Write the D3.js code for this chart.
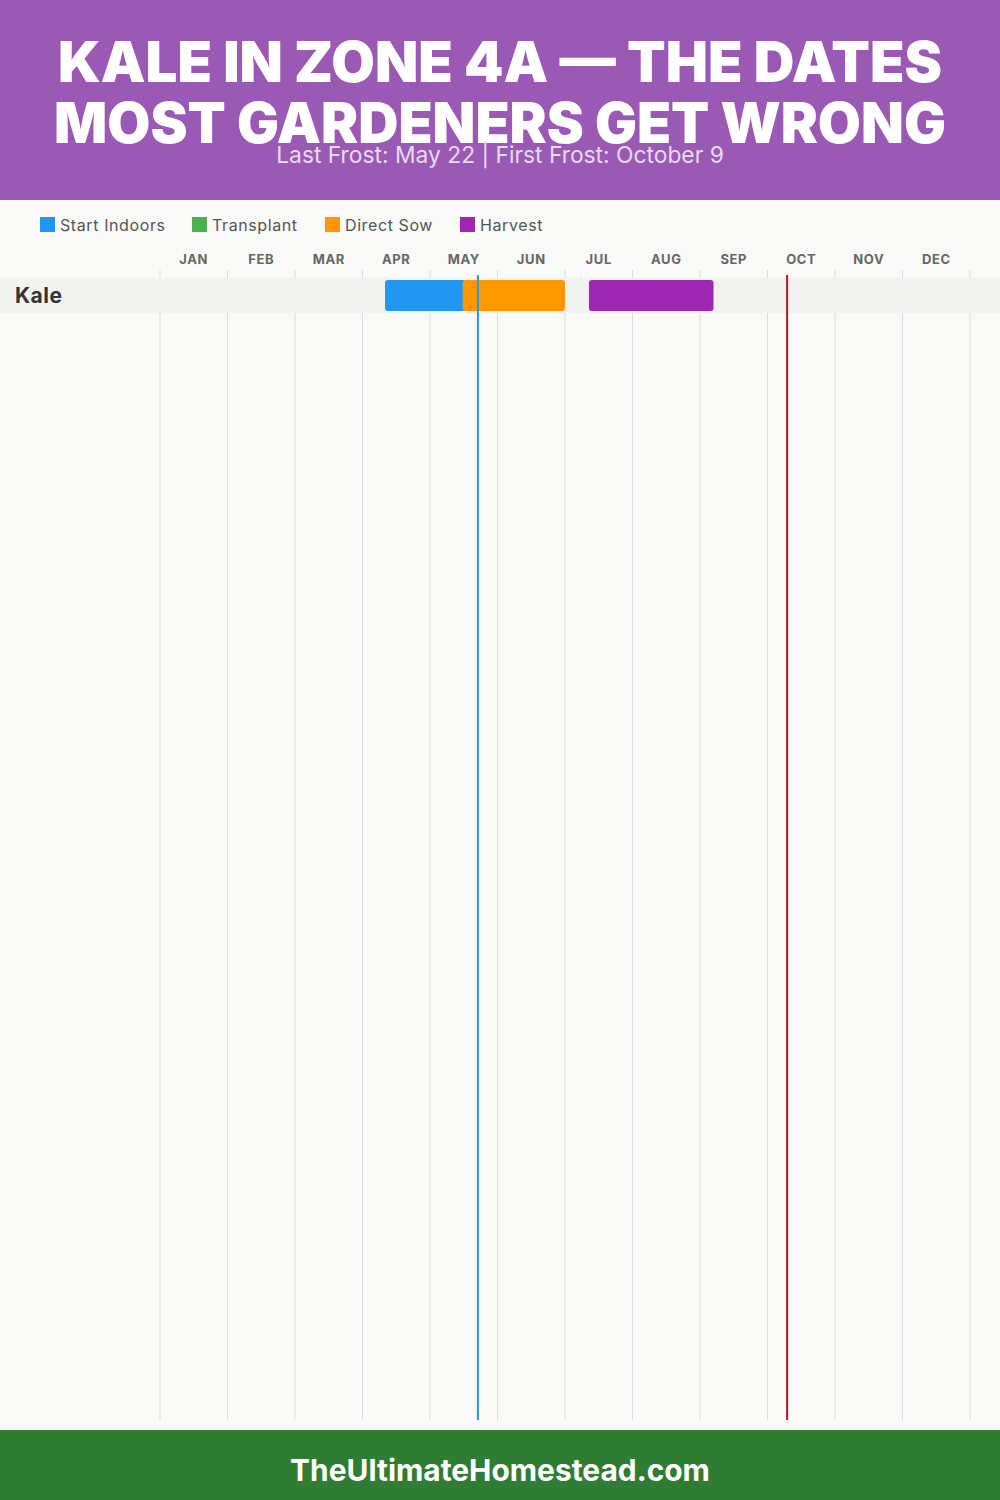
<!DOCTYPE html>
<html>
<head>
<meta charset="utf-8">
<script src="https://cdn.jsdelivr.net/npm/d3@7"></script>
<style>
  html, body { margin: 0; padding: 0; background: #f9f9f7; }
  svg { display: block; }
</style>
</head>
<body>
<svg id="chart" width="1000" height="1500"></svg>
<script>
// ---- data ----
const titleLines = ["KALE IN ZONE 4A \u2014 THE DATES", "MOST GARDENERS GET WRONG"];
const subtitle = "Last Frost: May 22 | First Frost: October 9";
const footerText = "TheUltimateHomestead.com";
const months = ["JAN","FEB","MAR","APR","MAY","JUN","JUL","AUG","SEP","OCT","NOV","DEC"];
const daysInMonth = [31,28,31,30,31,30,31,31,30,31,30,31];
const crops = ["Kale"];
const phases = ["Start Indoors", "Transplant", "Direct Sow", "Harvest"];
const phaseColors = ["#2196f3", "#4caf50", "#ff9800", "#9c27b0"];
// [crop, phase, startMonth(0-based), startDay, endMonth, endDay]
const tasks = [
  ["Kale", "Start Indoors", 3, 10, 4, 20],
  ["Kale", "Direct Sow",    4, 15, 5, 30],
  ["Kale", "Harvest",       6, 11, 8, 6]
];
// [label, month(0-based), day, color]
const frostLines = [
  ["Last Frost", 4, 22, "#2196f3"],
  ["First Frost", 9, 9, "#b71c1c"]
];

// ---- drawing ----
const W = 1000, H = 1500;
const svg = d3.select("#chart");
const FONT = "Inter, 'Open Sans', sans-serif";

function fit(sel, size, target) {
  const len = sel.node().getComputedTextLength();
  sel.attr("font-size", size * target / len);
  return sel;
}

svg.append("rect").attr("width", W).attr("height", H).attr("fill", "#f9f9f7");

// header
svg.append("rect").attr("x", 0).attr("y", 0).attr("width", W).attr("height", 200).attr("fill", "#9b59b6");
const titleY = [82, 143];
const titleW = [884, 892];
titleLines.forEach((t, i) => {
  const txt = svg.append("text")
    .attr("x", W / 2).attr("y", titleY[i])
    .attr("text-anchor", "middle")
    .attr("font-family", FONT).attr("font-weight", 900)
    .attr("font-size", 54).attr("fill", "#ffffff")
    .text(t);
  const len = txt.node().getComputedTextLength();
  txt.attr("font-size", Math.min(58, 54 * titleW[i] / len));
});
fit(svg.append("text")
  .attr("x", W / 2).attr("y", 163)
  .attr("text-anchor", "middle")
  .attr("font-family", FONT).attr("font-weight", 400)
  .attr("font-size", 20).attr("fill", "#e6dcef")
  .text(subtitle), 20, 448);

// legend
const legendX = [40, 192, 325, 460];
const legendW = [107, 88, 90, 64];
const legend = svg.append("g");
phases.forEach((p, i) => {
  legend.append("rect").attr("x", legendX[i]).attr("y", 217).attr("width", 15).attr("height", 15)
    .attr("fill", phaseColors[i]);
  legend.append("text").attr("x", legendX[i] + 20).attr("y", 231)
    .attr("font-family", FONT).attr("font-size", 16).attr("fill", "#555")
    .attr("letter-spacing", 0.6)
    .text(p);
});

// scales
const x = d3.scaleLinear().domain([0, 12]).range([160, 970]);
const pos = (m, d) => m + d / daysInMonth[m];
const rowTop = 278, rowH = 35;
const y = d3.scaleBand().domain(crops).range([rowTop, rowTop + rowH * crops.length]);
const color = d3.scaleOrdinal().domain(phases).range(phaseColors);

// grid lines
svg.append("g").selectAll("line").data(d3.range(13)).join("line")
  .attr("x1", d => x(d)).attr("x2", d => x(d))
  .attr("y1", 270).attr("y2", 1420)
  .attr("stroke", "#dddddd").attr("stroke-width", 1);

// month labels
svg.append("g").selectAll("text").data(months).join("text")
  .attr("x", (d, i) => x(i + 0.5)).attr("y", 264)
  .attr("text-anchor", "middle")
  .attr("font-family", FONT).attr("font-weight", 700)
  .attr("font-size", 13).attr("fill", "#666")
  .attr("letter-spacing", 0.6)
  .text(d => d);

// row band + labels
const rows = svg.append("g");
rows.selectAll("rect").data(crops).join("rect")
  .attr("x", 0).attr("y", d => y(d)).attr("width", W).attr("height", y.bandwidth())
  .attr("fill", "#f2f2f1");
rows.selectAll("text").data(crops).join("text")
  .attr("x", 15).attr("y", d => y(d) + y.bandwidth() / 2 + 7)
  .attr("font-family", FONT).attr("font-weight", 700)
  .attr("font-size", 21).attr("fill", "#333")
  .attr("letter-spacing", 0.5)
  .text(d => d);

// bars
svg.append("g").selectAll("rect").data(tasks).join("rect")
  .attr("x", d => x(pos(d[2], d[3])))
  .attr("width", d => x(pos(d[4], d[5])) - x(pos(d[2], d[3])))
  .attr("y", d => y(d[0]) + 2).attr("height", y.bandwidth() - 4)
  .attr("rx", 3).attr("ry", 3)
  .attr("fill", d => color(d[1]));

// frost lines
svg.append("g").selectAll("line").data(frostLines).join("line")
  .attr("x1", d => x(pos(d[1], d[2]))).attr("x2", d => x(pos(d[1], d[2])))
  .attr("y1", 275).attr("y2", 1420)
  .attr("stroke", d => d[3]).attr("stroke-width", 2);

// footer
svg.append("rect").attr("x", 0).attr("y", 1430).attr("width", W).attr("height", 70).attr("fill", "#2e7d32");
fit(svg.append("text").attr("x", W / 2).attr("y", 1481)
  .attr("text-anchor", "middle")
  .attr("font-family", FONT).attr("font-weight", 700)
  .attr("font-size", 28).attr("fill", "#ffffff")
  .text(footerText), 28, 420);
</script>
</body>
</html>
